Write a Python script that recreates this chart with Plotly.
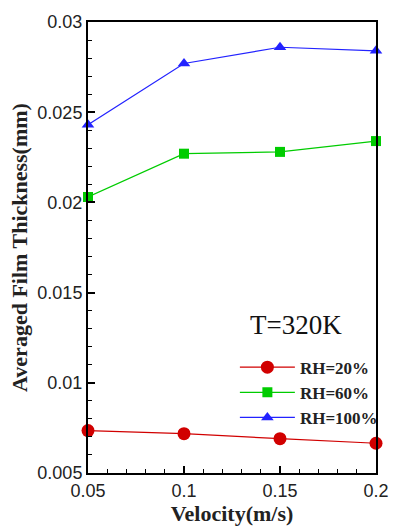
import plotly.graph_objects as go

velocity = [0.05, 0.1, 0.15, 0.2]
rh20 = [0.00735, 0.00718, 0.00690, 0.00665]
rh60 = [0.0203, 0.0227, 0.0228, 0.0234]
rh100 = [0.0243, 0.0277, 0.0286, 0.0284]
series_names = ["RH=20%", "RH=60%", "RH=100%"]
x_ticks = [0.05, 0.1, 0.15, 0.2]
x_tick_labels = ["0.05", "0.1", "0.15", "0.2"]
y_ticks = [0.005, 0.01, 0.015, 0.02, 0.025, 0.03]
y_tick_labels = ["0.005", "0.01", "0.015", "0.02", "0.025", "0.03"]

fig = go.Figure()
styles = [
    (rh20, "#d10000", "circle", 13),
    (rh60, "#00cc00", "square", 10),
    (rh100, "#2222ff", "triangle-up", 11),
]
for name, (vals, color, sym, size) in zip(series_names, styles):
    fig.add_trace(go.Scatter(
        x=velocity, y=vals, name=name, mode="lines+markers",
        line=dict(color=color, width=1.2),
        marker=dict(symbol=sym, size=size, color=color),
        cliponaxis=False,
    ))

fig.update_layout(
    width=401, height=528,
    margin=dict(l=88, r=13, t=18, b=44),
    paper_bgcolor="white", plot_bgcolor="white",
    showlegend=True,
    legend=dict(
        x=0.51, y=0.2735, xanchor="left", yanchor="top",
        bgcolor="rgba(0,0,0,0)", borderwidth=0,
        font=dict(family="Liberation Serif", size=17, color="#222", weight="bold"),
        tracegroupgap=0, itemsizing="trace", itemwidth=55,
    ),
    xaxis=dict(
        range=[0.05, 0.2], tickvals=x_ticks, ticktext=x_tick_labels,
        showgrid=False, zeroline=False,
        showline=True, linecolor="black", linewidth=2, mirror=True,
        ticks="inside", ticklen=7, tickwidth=1.5, tickcolor="black",
        minor=dict(dtick=0.01, ticks="inside", ticklen=4, tickcolor="black", tickwidth=1),
        tickfont=dict(family="Liberation Sans", size=18, color="#222"),
        title=dict(text="Velocity(m/s)", standoff=0,
                   font=dict(family="Liberation Serif", size=22, color="#222", weight="bold")),
    ),
    yaxis=dict(
        range=[0.005, 0.03], tickvals=y_ticks, ticktext=y_tick_labels,
        showgrid=False, zeroline=False,
        showline=True, linecolor="black", linewidth=2, mirror=True,
        ticks="inside", ticklen=7, tickwidth=1.5, tickcolor="black",
        minor=dict(dtick=0.001, ticks="inside", ticklen=4, tickcolor="black", tickwidth=1),
        tickfont=dict(family="Liberation Sans", size=18, color="#222"),
        title=dict(text="Averaged Film Thickness(mm)", standoff=4,
                   font=dict(family="Liberation Serif", size=22, color="#222", weight="bold")),
    ),
    annotations=[dict(
        xref="x", yref="y", x=0.1585, y=0.01321,
        text="T=320K", showarrow=False,
        font=dict(family="Liberation Serif", size=27, color="#111"),
        xanchor="center", yanchor="middle",
    )],
)

fig.write_html("out.html")
